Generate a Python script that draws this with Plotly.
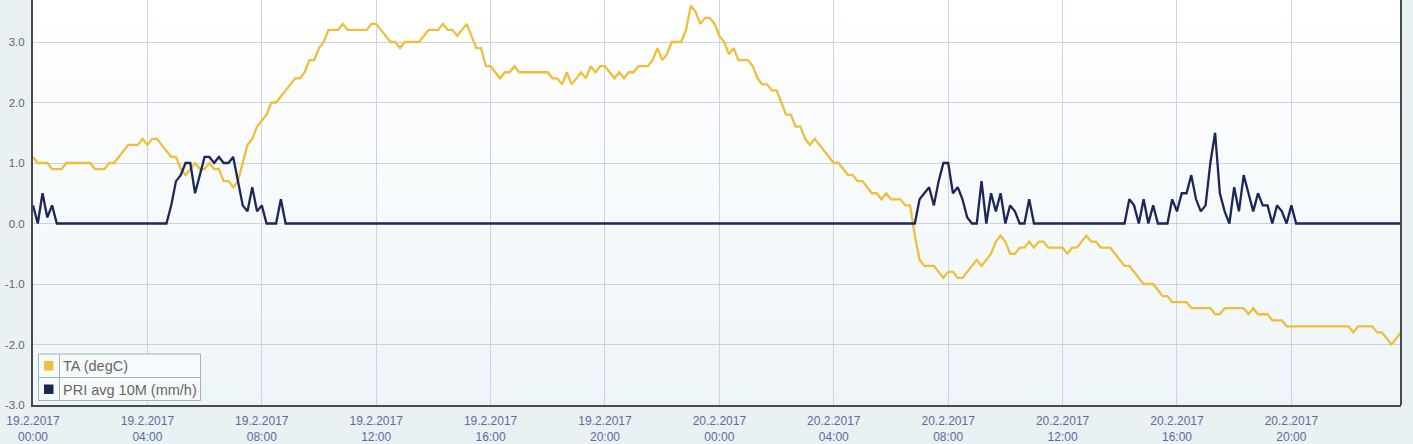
import base64
import pandas as pd
import plotly.graph_objects as go

# ---------------- data (10-minute values, 19.2.2017 00:00 -> 20.2.2017 23:50) ----------------
START = "2017-02-19 00:00"
STEP = "10min"

TA = [  # degC, one row per hour
    1.1, 1.0, 1.0, 1.0, 0.9, 0.9,
    0.9, 1.0, 1.0, 1.0, 1.0, 1.0,
    1.0, 0.9, 0.9, 0.9, 1.0, 1.0,
    1.1, 1.2, 1.3, 1.3, 1.3, 1.4,
    1.3, 1.4, 1.4, 1.3, 1.2, 1.1,
    1.1, 0.9, 0.8, 0.9, 1.0, 0.9,
    0.9, 1.0, 0.9, 0.9, 0.7, 0.7,
    0.6, 0.7, 1.0, 1.3, 1.4, 1.6,
    1.7, 1.8, 2.0, 2.0, 2.1, 2.2,
    2.3, 2.4, 2.4, 2.5, 2.7, 2.7,
    2.9, 3.0, 3.2, 3.2, 3.2, 3.3,
    3.2, 3.2, 3.2, 3.2, 3.2, 3.3,
    3.3, 3.2, 3.1, 3.0, 3.0, 2.9,
    3.0, 3.0, 3.0, 3.0, 3.1, 3.2,
    3.2, 3.2, 3.3, 3.2, 3.2, 3.1,
    3.2, 3.3, 3.1, 2.9, 2.9, 2.6,
    2.6, 2.5, 2.4, 2.5, 2.5, 2.6,
    2.5, 2.5, 2.5, 2.5, 2.5, 2.5,
    2.5, 2.4, 2.4, 2.3, 2.5, 2.3,
    2.4, 2.5, 2.4, 2.6, 2.5, 2.6,
    2.6, 2.5, 2.4, 2.5, 2.4, 2.5,
    2.5, 2.6, 2.6, 2.6, 2.7, 2.9,
    2.7, 2.8, 3.0, 3.0, 3.0, 3.2,
    3.6, 3.5, 3.3, 3.4, 3.4, 3.3,
    3.1, 3.0, 2.8, 2.9, 2.7, 2.7,
    2.7, 2.6, 2.4, 2.3, 2.3, 2.2,
    2.2, 2.0, 1.8, 1.8, 1.6, 1.6,
    1.4, 1.3, 1.4, 1.3, 1.2, 1.1,
    1.0, 1.0, 0.9, 0.8, 0.8, 0.7,
    0.7, 0.6, 0.5, 0.5, 0.4, 0.5,
    0.4, 0.4, 0.4, 0.3, 0.3, -0.2,
    -0.6, -0.7, -0.7, -0.7, -0.8, -0.9,
    -0.8, -0.8, -0.9, -0.9, -0.8, -0.7,
    -0.6, -0.7, -0.6, -0.5, -0.3, -0.2,
    -0.3, -0.5, -0.5, -0.4, -0.4, -0.3,
    -0.4, -0.3, -0.3, -0.4, -0.4, -0.4,
    -0.4, -0.5, -0.4, -0.4, -0.3, -0.2,
    -0.3, -0.3, -0.4, -0.4, -0.4, -0.5,
    -0.6, -0.7, -0.7, -0.8, -0.9, -1.0,
    -1.0, -1.0, -1.1, -1.2, -1.2, -1.3,
    -1.3, -1.3, -1.3, -1.4, -1.4, -1.4,
    -1.4, -1.4, -1.5, -1.5, -1.4, -1.4,
    -1.4, -1.4, -1.4, -1.5, -1.4, -1.5,
    -1.5, -1.5, -1.6, -1.6, -1.6, -1.7,
    -1.7, -1.7, -1.7, -1.7, -1.7, -1.7,
    -1.7, -1.7, -1.7, -1.7, -1.7, -1.7,
    -1.7, -1.8, -1.7, -1.7, -1.7, -1.7,
    -1.8, -1.8, -1.9, -2.0, -1.9, -1.8,
]

PRI = [  # mm/h, one row per hour
    0.3, 0.0, 0.5, 0.1, 0.3, 0.0,
    0.0, 0.0, 0.0, 0.0, 0.0, 0.0,
    0.0, 0.0, 0.0, 0.0, 0.0, 0.0,
    0.0, 0.0, 0.0, 0.0, 0.0, 0.0,
    0.0, 0.0, 0.0, 0.0, 0.0, 0.3,
    0.7, 0.8, 1.0, 1.0, 0.5, 0.8,
    1.1, 1.1, 1.0, 1.1, 1.0, 1.0,
    1.1, 0.7, 0.3, 0.2, 0.6, 0.2,
    0.3, 0.0, 0.0, 0.0, 0.4, 0.0,
    0.0, 0.0, 0.0, 0.0, 0.0, 0.0,
    0.0, 0.0, 0.0, 0.0, 0.0, 0.0,
    0.0, 0.0, 0.0, 0.0, 0.0, 0.0,
    0.0, 0.0, 0.0, 0.0, 0.0, 0.0,
    0.0, 0.0, 0.0, 0.0, 0.0, 0.0,
    0.0, 0.0, 0.0, 0.0, 0.0, 0.0,
    0.0, 0.0, 0.0, 0.0, 0.0, 0.0,
    0.0, 0.0, 0.0, 0.0, 0.0, 0.0,
    0.0, 0.0, 0.0, 0.0, 0.0, 0.0,
    0.0, 0.0, 0.0, 0.0, 0.0, 0.0,
    0.0, 0.0, 0.0, 0.0, 0.0, 0.0,
    0.0, 0.0, 0.0, 0.0, 0.0, 0.0,
    0.0, 0.0, 0.0, 0.0, 0.0, 0.0,
    0.0, 0.0, 0.0, 0.0, 0.0, 0.0,
    0.0, 0.0, 0.0, 0.0, 0.0, 0.0,
    0.0, 0.0, 0.0, 0.0, 0.0, 0.0,
    0.0, 0.0, 0.0, 0.0, 0.0, 0.0,
    0.0, 0.0, 0.0, 0.0, 0.0, 0.0,
    0.0, 0.0, 0.0, 0.0, 0.0, 0.0,
    0.0, 0.0, 0.0, 0.0, 0.0, 0.0,
    0.0, 0.0, 0.0, 0.0, 0.0, 0.0,
    0.0, 0.0, 0.0, 0.0, 0.0, 0.0,
    0.4, 0.5, 0.6, 0.3, 0.7, 1.0,
    1.0, 0.5, 0.6, 0.4, 0.1, 0.0,
    0.0, 0.7, 0.0, 0.5, 0.2, 0.5,
    0.0, 0.3, 0.2, 0.0, 0.0, 0.4,
    0.0, 0.0, 0.0, 0.0, 0.0, 0.0,
    0.0, 0.0, 0.0, 0.0, 0.0, 0.0,
    0.0, 0.0, 0.0, 0.0, 0.0, 0.0,
    0.0, 0.0, 0.4, 0.3, 0.0, 0.4,
    0.0, 0.3, 0.0, 0.0, 0.0, 0.4,
    0.2, 0.5, 0.5, 0.8, 0.4, 0.2,
    0.3, 1.0, 1.5, 0.5, 0.2, 0.0,
    0.6, 0.2, 0.8, 0.5, 0.2, 0.5,
    0.3, 0.3, 0.0, 0.3, 0.2, 0.0,
    0.3, 0.0, 0.0, 0.0, 0.0, 0.0,
    0.0, 0.0, 0.0, 0.0, 0.0, 0.0,
    0.0, 0.0, 0.0, 0.0, 0.0, 0.0,
    0.0, 0.0, 0.0, 0.0, 0.0, 0.0,
]

SERIES_NAMES = ["TA (degC)", "PRI avg 10M (mm/h)"]

X_TICK_VALUES = ["2017-02-19 00:00", "2017-02-19 04:00", "2017-02-19 08:00",
                 "2017-02-19 12:00", "2017-02-19 16:00", "2017-02-19 20:00",
                 "2017-02-20 00:00", "2017-02-20 04:00", "2017-02-20 08:00",
                 "2017-02-20 12:00", "2017-02-20 16:00", "2017-02-20 20:00"]
X_TICK_TEXT = ["19.2.2017<br>00:00", "19.2.2017<br>04:00", "19.2.2017<br>08:00",
               "19.2.2017<br>12:00", "19.2.2017<br>16:00", "19.2.2017<br>20:00",
               "20.2.2017<br>00:00", "20.2.2017<br>04:00", "20.2.2017<br>08:00",
               "20.2.2017<br>12:00", "20.2.2017<br>16:00", "20.2.2017<br>20:00"]
Y_TICK_VALUES = [-3, -2, -1, 0, 1, 2, 3]
Y_TICK_TEXT = ["-3.0", "-2.0", "-1.0", "0.0", "1.0", "2.0", "3.0"]

# ---------------- styling ----------------
W, H = 1413, 444
ML, MR, MT, MB = 33, 12, 0, 39
PW, PH = W - ML - MR, H - MT - MB
C_TA = "#eebf3c"
C_PRI = "#1b2757"
AXIS = "#4a4a4a"
FONT = "Liberation Sans, Arial, sans-serif"

times = pd.date_range(START, periods=len(TA), freq=STEP)

fig = go.Figure()
fig.add_trace(go.Scatter(x=times, y=TA, mode="lines", name=SERIES_NAMES[0],
                         line=dict(color=C_TA, width=2.3), showlegend=False))
fig.add_trace(go.Scatter(x=times, y=PRI, mode="lines", name=SERIES_NAMES[1],
                         line=dict(color=C_PRI, width=2.3), showlegend=False))

# gradient plot background
svg = ('<svg xmlns="http://www.w3.org/2000/svg" width="10" height="100" viewBox="0 0 10 100" '
       'preserveAspectRatio="none"><defs><linearGradient id="g" x1="0" y1="0" x2="0" y2="1">'
       '<stop offset="0" stop-color="#ffffff"/><stop offset="1" stop-color="#eef5f8"/>'
       '</linearGradient></defs><rect x="0" y="0" width="10" height="100" fill="url(#g)"/></svg>')
src = "data:image/svg+xml;base64," + base64.b64encode(svg.encode()).decode()


def px(x):
    return (x - ML) / PW


def py(y):
    return (MT + PH - y) / PH


shapes = [
    dict(type="line", xref="paper", yref="paper", x0=1, x1=1, y0=0, y1=1,
         line=dict(color=AXIS, width=2), layer="above"),
    # legend box
    dict(type="rect", xref="paper", yref="paper", x0=px(38.5), x1=px(200.5),
         y0=py(400.5), y1=py(354), fillcolor="#f7fafb",
         line=dict(color="#9db6b9", width=1), layer="above"),
    dict(type="line", xref="paper", yref="paper", x0=px(59.5), x1=px(59.5),
         y0=py(400.5), y1=py(354), line=dict(color="#9db6b9", width=1), layer="above"),
    dict(type="line", xref="paper", yref="paper", x0=px(38.5), x1=px(200.5),
         y0=py(377.5), y1=py(377.5), line=dict(color="#9db6b9", width=1), layer="above"),
    dict(type="rect", xref="paper", yref="paper", x0=px(44), x1=px(53.5),
         y0=py(370.5), y1=py(361), fillcolor=C_TA, line=dict(width=0), layer="above"),
    dict(type="rect", xref="paper", yref="paper", x0=px(44), x1=px(53.5),
         y0=py(394), y1=py(384.5), fillcolor=C_PRI, line=dict(width=0), layer="above"),
]
annotations = [
    dict(xref="paper", yref="paper", x=px(61), y=py(366), text=SERIES_NAMES[0],
         showarrow=False, xanchor="left", yanchor="middle",
         font=dict(family=FONT, size=14.5, color="#666666")),
    dict(xref="paper", yref="paper", x=px(61), y=py(389.5), text=SERIES_NAMES[1],
         showarrow=False, xanchor="left", yanchor="middle",
         font=dict(family=FONT, size=14.5, color="#666666")),
]

fig.update_layout(
    width=W, height=H,
    margin=dict(l=ML, r=MR, t=MT, b=MB, pad=0, autoexpand=False),
    paper_bgcolor="#e9f1f3",
    plot_bgcolor="rgba(0,0,0,0)",
    font=dict(family=FONT),
    showlegend=False,
    images=[dict(source=src, xref="paper", yref="paper", x=0, y=1, sizex=1, sizey=1,
                 xanchor="left", yanchor="top", sizing="stretch", layer="below")],
    shapes=shapes,
    annotations=annotations,
    xaxis=dict(
        type="date", range=[times[0], times[-1]],
        tickmode="array", tickvals=X_TICK_VALUES, ticktext=X_TICK_TEXT,
        showgrid=True, gridcolor="#cfd2e2", gridwidth=1,
        showline=True, linecolor=AXIS, linewidth=2,
        ticks="", zeroline=False, automargin=False, ticklabelstandoff=4,
        tickfont=dict(family=FONT, size=12, color="#5c6b9c"),
    ),
    yaxis=dict(
        range=[-3, -3 + PH / 60.5],
        tickmode="array", tickvals=Y_TICK_VALUES, ticktext=Y_TICK_TEXT,
        showgrid=True, gridcolor="#d0d0d8", gridwidth=1,
        showline=True, linecolor=AXIS, linewidth=2,
        ticks="", zeroline=False, automargin=False, ticklabelstandoff=4,
        tickfont=dict(family=FONT, size=11.5, color="#666666"),
    ),
)

fig.write_html(
    "out.html",
    config={"displayModeBar": False},
    post_script="document.body.style.margin='0';document.body.style.background='#e9f1f3';",
)
